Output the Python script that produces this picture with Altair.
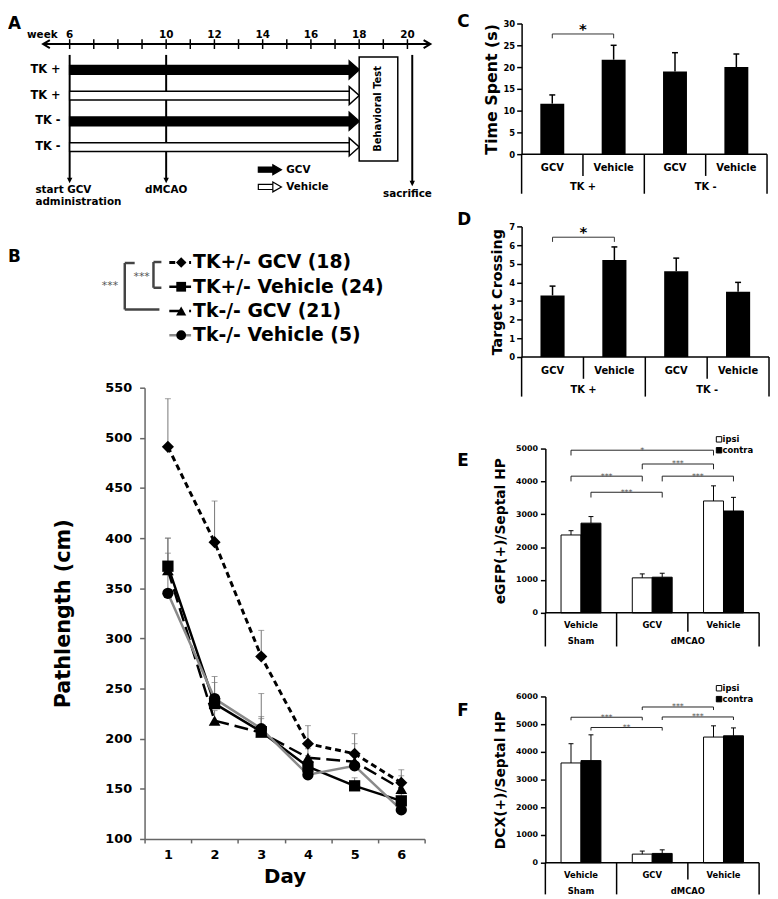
import altair as alt
import pandas as pd

FONT = "DejaVu Sans"
ONE = pd.DataFrame({"k": [0]})

# ---------------- Panel A: timeline (weeks) ----------------
week_ticks = list(range(6, 21))
week_tick_labels = [6, 10, 12, 14, 16, 18, 20]
row_groups = ["TK +", "TK +", "TK -", "TK -"]
row_treatments = ["GCV", "Vehicle", "GCV", "Vehicle"]
treatment_weeks = [6, 18]
dmcao_week = 10
behavior_test_weeks = [18, 19.6]
sacrifice_week = 20.2

# ---------------- Panel B: pathlength per day ----------------
days = [1, 2, 3, 4, 5, 6]
b_series = ["TK+/- GCV (18)", "TK+/- Vehicle (24)", "Tk-/- GCV (21)", "Tk-/- Vehicle (5)"]
b_tkp_gcv = [491, 396, 282, 195, 185, 156]
b_tkp_gcv_top = [539, 437, 308, 213, 205, 169]
b_tkp_veh = [372, 235, 207, 172, 153, 138]
b_tkp_veh_top = [400, 256, 222, 183, 161, 145]
b_tkm_gcv = [368, 218, 206, 181, 177, 150]
b_tkm_gcv_top = [385, 228, 220, 190, 195, 163]
b_tkm_veh = [345, 240, 210, 164, 173, 129]
b_tkm_veh_top = [400, 262, 245, 176, 185, 137]

# ---------------- Panels C, D ----------------
cd_conditions = ["GCV", "Vehicle", "GCV", "Vehicle"]
cd_genotypes = ["TK +", "TK -"]
c_time_spent = [11.6, 21.7, 19.0, 20.0]
c_time_spent_top = [13.6, 25.0, 23.3, 23.0]
d_crossing = [3.3, 5.2, 4.6, 3.5]
d_crossing_top = [3.8, 5.9, 5.3, 4.0]

# ---------------- Panels E, F ----------------
ef_conditions = ["Vehicle", "GCV", "Vehicle"]
ef_models = ["Sham", "dMCAO"]
ef_model_of_group = [0, 1, 1]
ef_sides = ["ipsi", "contra"]
e_ipsi = [2370, 1065, 3405]
e_ipsi_top = [2500, 1185, 3865]
e_contra = [2730, 1085, 3100]
e_contra_top = [2930, 1205, 3515]
f_ipsi = [3600, 310, 4535]
f_ipsi_top = [4295, 420, 4940]
f_contra = [3685, 335, 4580]
f_contra_top = [4615, 465, 4865]
e_sig = [((0, "ipsi"), (2, "ipsi"), 4950, "*"),
         ((1, "ipsi"), (2, "ipsi"), 4530, "***"),
         ((0, "ipsi"), (1, "ipsi"), 4160, "***"),
         ((1, "contra"), (2, "contra"), 4160, "***"),
         ((0, "contra"), (1, "contra"), 3670, "***")]
f_sig = [((1, "ipsi"), (2, "ipsi"), 5620, "***"),
         ((0, "ipsi"), (1, "ipsi"), 5250, "***"),
         ((1, "contra"), (2, "contra"), 5260, "***"),
         ((0, "contra"), (1, "contra"), 4880, "**")]

SIDE_FILL = {"ipsi": "white", "contra": "black"}
TREAT_FILL = {"GCV": "black", "Vehicle": "white"}


# ================= helpers =================
def vtext(text, x, y, size, align="left", weight="bold", color="black", angle=0, baseline="middle"):
    return alt.Chart(ONE).mark_text(text=text, font=FONT, fontSize=size, fontWeight=weight,
                                    align=align, baseline=baseline, color=color, angle=angle
                                    ).encode(x=alt.value(x), y=alt.value(y))


def vline(x1, y1, x2, y2, color="black", width=1.0, dash=None):
    kw = dict(color=color, strokeWidth=width)
    if dash:
        kw["strokeDash"] = dash
    return alt.Chart(ONE).mark_rule(**kw).encode(x=alt.value(x1), y=alt.value(y1),
                                                 x2=alt.value(x2), y2=alt.value(y2))


# ================= Panel A =================
A_PXW = 24.38            # px per week
WA, HA = 290, 184.6
A_XDOM = [21.0 - WA / A_PXW, 21.0]
A_YDOM = [-0.8, 6.3]
XA = alt.Scale(domain=A_XDOM, nice=False, zero=False)
YA = alt.Scale(domain=A_YDOM, nice=False, zero=False, reverse=True)


def xa(f):
    return alt.X(f"{f}:Q", scale=XA, axis=None)


def ya(f):
    return alt.Y(f"{f}:Q", scale=YA, axis=None)


def a_text(text, w, r, size, align="left", angle=0):
    d = pd.DataFrame({"w": [w], "r": [r]})
    return alt.Chart(d).mark_text(text=text, font=FONT, fontSize=size, fontWeight="bold",
                                  align=align, baseline="middle", angle=angle, color="black"
                                  ).encode(x=xa("w"), y=ya("r"))


A = []
axis_df = pd.DataFrame({"a": [4.9], "b": [20.95], "r": [0.0]})
A.append(alt.Chart(axis_df).mark_rule(color="black", strokeWidth=2).encode(x=xa("a"), x2="b:Q", y=ya("r")))
A.append(alt.Chart(axis_df).mark_point(shape="M1.7,-1L0,0L1.7,1", size=64, filled=False, color="black",
                                       strokeWidth=2, opacity=1).encode(x=xa("a"), y=ya("r")))
A.append(alt.Chart(axis_df).mark_point(shape="M-1.7,-1L0,0L-1.7,1", size=64, filled=False, color="black",
                                       strokeWidth=2, opacity=1).encode(x=xa("b"), y=ya("r")))
tick_df = pd.DataFrame({"w": week_ticks})
tick_df["r0"] = -0.19
tick_df["r1"] = 0.19
A.append(alt.Chart(tick_df).mark_rule(color="black", strokeWidth=1.5).encode(x=xa("w"), y=ya("r0"), y2="r1:Q"))
lab_df = pd.DataFrame({"w": week_tick_labels})
lab_df["r"] = -0.36
A.append(alt.Chart(lab_df).mark_text(font=FONT, fontSize=10.5, fontWeight="bold", color="black").encode(
    x=xa("w"), y=ya("r"), text=alt.Text("w:Q", format="d")))
A.append(a_text("week", 5.5, -0.36, 10.5, align="right"))

vl_df = pd.DataFrame({"w": [treatment_weeks[0], dmcao_week, sacrifice_week],
                      "r0": [0.42, 0.42, 0.42], "r1": [5.3, 5.3, 5.42]})
A.append(alt.Chart(vl_df).mark_rule(color="black", strokeWidth=2).encode(x=xa("w"), y=ya("r0"), y2="r1:Q"))
A.append(alt.Chart(vl_df).mark_point(shape="M-1,-1L0,1L1,-1Z", size=30, filled=True, color="black",
                                     opacity=1).encode(x=xa("w"), y=ya("r1")))

head_w = 10 / A_PXW
arr = pd.DataFrame({"row": [1, 2, 3, 4], "treat": row_treatments, "grp": row_groups})
arr["fillc"] = arr["treat"].map(TREAT_FILL)
arr["x0"] = treatment_weeks[0]
arr["x1"] = treatment_weeks[1] - head_w + 0.05
arr["hc"] = treatment_weeks[1] - head_w / 2
arr["r0"] = arr["row"] - 0.17
arr["r1"] = arr["row"] + 0.17
arr["lx"] = 5.62
A.append(alt.Chart(arr).mark_rect(stroke="black", strokeWidth=1.5).encode(
    x=xa("x0"), x2="x1:Q", y=ya("r0"), y2="r1:Q", fill=alt.Fill("fillc:N", scale=None)))
A.append(alt.Chart(arr).mark_point(shape="M-0.56,-1L0.56,0L-0.56,1Z", size=324, filled=True, stroke="black",
                                   strokeWidth=1.5, opacity=1).encode(
    x=xa("hc"), y=ya("row"), fill=alt.Fill("fillc:N", scale=None)))
A.append(alt.Chart(arr).mark_text(font=FONT, fontSize=11.5, fontWeight="bold", align="right", color="black").encode(
    x=xa("lx"), y=ya("row"), text="grp:N"))

box_df = pd.DataFrame({"a": [behavior_test_weeks[0]], "b": [behavior_test_weeks[1]], "r0": [0.5], "r1": [4.54]})
A.append(alt.Chart(box_df).mark_rect(fill="white", stroke="black", strokeWidth=1.5).encode(
    x=xa("a"), x2="b:Q", y=ya("r0"), y2="r1:Q"))
A.append(a_text("Behavioral Test", sum(behavior_test_weeks) / 2, 2.52, 10, align="center", angle=270))

leg = pd.DataFrame({"treat": ["GCV", "Vehicle"], "row": [4.88, 5.55]})
leg["fillc"] = leg["treat"].map(TREAT_FILL)
leg["x0"] = 13.82
leg["x1"] = 14.45
leg["hc"] = 14.6
leg["r0"] = leg["row"] - 0.1
leg["r1"] = leg["row"] + 0.1
leg["tx"] = 14.98
A.append(alt.Chart(leg).mark_rect(stroke="black", strokeWidth=1.2).encode(
    x=xa("x0"), x2="x1:Q", y=ya("r0"), y2="r1:Q", fill=alt.Fill("fillc:N", scale=None)))
A.append(alt.Chart(leg).mark_point(shape="M-0.87,-1L0.87,0L-0.87,1Z", size=100, filled=True, stroke="black",
                                   strokeWidth=1.2, opacity=1).encode(
    x=xa("hc"), y=ya("row"), fill=alt.Fill("fillc:N", scale=None)))
A.append(alt.Chart(leg).mark_text(font=FONT, fontSize=10.5, fontWeight="bold", align="left", color="black").encode(
    x=xa("tx"), y=ya("row"), text="treat:N"))

A.append(a_text("start GCV", 4.58, 5.66, 10.5))
A.append(a_text("administration", 4.58, 6.14, 10.5))
A.append(a_text("dMCAO", dmcao_week, 5.66, 10.5, align="center"))
A.append(a_text("sacrifice", 20.0, 5.82, 10.5, align="center"))
A.append(vtext("A", -138, 0.3, 17))
panel_a = alt.layer(*A).properties(width=WA, height=HA)

# ================= Panel B =================
WB, HB = 283, 456
b_means = [b_tkp_gcv, b_tkp_veh, b_tkm_gcv, b_tkm_veh]
b_tops = [b_tkp_gcv_top, b_tkp_veh_top, b_tkm_gcv_top, b_tkm_veh_top]
rows = []
for name, ms, ts in zip(b_series, b_means, b_tops):
    for d, m, t in zip(days, ms, ts):
        rows.append({"series": name, "day": d, "mean": m, "top": t})
dfb = pd.DataFrame(rows)
b_styles = [
    dict(shape="diamond", dash=[6, 4], color="black", width=3, size=150),
    dict(shape="square", dash=None, color="black", width=2.5, size=130),
    dict(shape="triangle-up", dash=[14, 6], color="black", width=2.5, size=140),
    dict(shape="circle", dash=None, color="#8a8a8a", width=2.5, size=130),
]
XB = alt.Scale(type="band", domain=days, paddingInner=0, paddingOuter=0)
YB = alt.Scale(domain=[100, 550], nice=False, zero=False)
xb_axis = alt.Axis(title="Day", titleFontSize=20, labelFontSize=13, labelAngle=0, tickBand="extent",
                   tickSize=4, labelPadding=6, titlePadding=5, domainColor="#666", tickColor="#666",
                   domainWidth=1.5, tickWidth=1.5)
yb_axis = alt.Axis(values=list(range(100, 551, 50)), title="Pathlength (cm)", titleFontSize=21,
                   labelFontSize=13, tickSize=5, labelPadding=8, titlePadding=32, domainColor="#666",
                   tickColor="#666", domainWidth=1.5, tickWidth=1.5)


def XBd():
    return alt.X("day:O", scale=XB, axis=xb_axis)


def YBd(f):
    return alt.Y(f"{f}:Q", scale=YB, axis=yb_axis)


B = []
B.append(alt.Chart(dfb).mark_rule(color="#777", strokeWidth=1).encode(x=XBd(), y=YBd("mean"), y2="top:Q"))
B.append(alt.Chart(dfb).mark_tick(orient="horizontal", size=6, thickness=1, color="#777").encode(
    x=XBd(), y=YBd("top")))
for name, st in zip(b_series, b_styles):
    sub = dfb[dfb["series"] == name]
    kw = dict(color=st["color"], strokeWidth=st["width"])
    if st["dash"]:
        kw["strokeDash"] = st["dash"]
    B.append(alt.Chart(sub).mark_line(**kw).encode(x=XBd(), y=YBd("mean")))
for name, st in zip(b_series, b_styles):
    sub = dfb[dfb["series"] == name]
    B.append(alt.Chart(sub).mark_point(shape=st["shape"], size=st["size"], filled=True, color="black",
                                       opacity=1).encode(x=XBd(), y=YBd("mean")))
for i, (name, st) in enumerate(zip(b_series, b_styles)):
    yy = -126.5 + 24.5 * i
    B.append(vline(25, yy, 47, yy, color=st["color"], width=st["width"], dash=st["dash"]))
    B.append(alt.Chart(ONE).mark_point(shape=st["shape"], size=st["size"] * 0.75, filled=True, color="black",
                                       opacity=1).encode(x=alt.value(37), y=alt.value(yy)))
    B.append(vtext(name, 49, yy, 19))
BR = "#444"
B.append(vline(9, -127, 9, -101, BR, 2.5))
B.append(vline(9, -127, 17, -127, BR, 2.5))
B.append(vline(9, -101, 17, -101, BR, 2.5))
B.append(vline(-20, -126, -20, -79, BR, 2.5))
B.append(vline(-20, -126, -10, -126, BR, 2.5))
B.append(vline(-20, -79, 15, -79, BR, 2.5))
B.append(vtext("***", -3, -112, 11, align="center", weight="normal", color="#555"))
B.append(vtext("***", -35, -103, 11, align="center", weight="normal", color="#555"))
B.append(vtext("B", -138, -132, 17))
panel_b = alt.layer(*B).properties(width=WB, height=HB)


# ================= Panels C, D =================
def bar4_panel(letter, letter_y, means, tops, ymax, ystep, title, title_size, sig, W, H):
    n = len(means)
    df = pd.DataFrame({"label": cd_conditions, "mean": means, "top": tops})
    df["pos"] = [i + 0.5 for i in range(n)]
    df["lo"] = df["pos"] - 0.195
    df["hi"] = df["pos"] + 0.195
    df["zero"] = 0.0
    cap = 3.0 / (W / n)
    df["c0"] = df["pos"] - cap
    df["c1"] = df["pos"] + cap
    XS = alt.Scale(domain=[0, n], nice=False, zero=False)
    YS = alt.Scale(domain=[0, ymax], nice=False)
    yaxis = alt.Axis(values=list(range(0, ymax + 1, ystep)), title=title, titleFontSize=title_size,
                     labelFontSize=8.5, tickSize=5, labelPadding=2, titlePadding=4, domainWidth=1.5,
                     tickWidth=1.5, domainColor="black", tickColor="black", format="d")

    def X(f):
        return alt.X(f"{f}:Q", scale=XS, axis=None)

    def Y(f):
        return alt.Y(f"{f}:Q", scale=YS, axis=yaxis)

    L = []
    L.append(alt.Chart(df).mark_rect(color="black").encode(x=X("lo"), x2="hi:Q", y=Y("mean"), y2="zero:Q"))
    L.append(alt.Chart(df).mark_rule(color="black", strokeWidth=1.5).encode(x=X("pos"), y=Y("mean"), y2="top:Q"))
    L.append(alt.Chart(df).mark_rule(color="black", strokeWidth=1.5).encode(x=X("c0"), x2="c1:Q", y=Y("top")))
    base = pd.DataFrame({"a": [0], "b": [n], "y": [0]})
    L.append(alt.Chart(base).mark_rule(color="black", strokeWidth=1.5).encode(x=X("a"), x2="b:Q", y=Y("y")))
    i0, i1, yb, drop, lab = sig
    sd = pd.DataFrame({"x0": [i0 + 0.5], "x1": [i1 + 0.5], "yt": [yb], "yb": [yb - drop],
                       "xm": [(i0 + i1) / 2 + 0.5], "lab": [lab]})
    L.append(alt.Chart(sd).mark_rule(color="#333", strokeWidth=1).encode(x=X("x0"), x2="x1:Q", y=Y("yt")))
    L.append(alt.Chart(sd).mark_rule(color="#333", strokeWidth=1).encode(x=X("x0"), y=Y("yt"), y2="yb:Q"))
    L.append(alt.Chart(sd).mark_rule(color="#333", strokeWidth=1).encode(x=X("x1"), y=Y("yt"), y2="yb:Q"))
    L.append(alt.Chart(sd).mark_text(font=FONT, fontSize=15, fontWeight="bold", baseline="alphabetic",
                                     color="black").encode(x=X("xm"), y=Y("yt"), text="lab:N"))
    per = n // len(cd_genotypes)
    long_df = pd.DataFrame({"p": [g * per for g in range(len(cd_genotypes) + 1)]})
    short_df = pd.DataFrame({"p": [g * per + k for g in range(len(cd_genotypes)) for k in range(1, per)]})
    L.append(alt.Chart(long_df).mark_rule(color="black", strokeWidth=1.5).encode(
        x=X("p"), y=alt.value(H), y2=alt.value(H + 40)))
    L.append(alt.Chart(short_df).mark_rule(color="black", strokeWidth=1.5).encode(
        x=X("p"), y=alt.value(H), y2=alt.value(H + 22)))
    L.append(alt.Chart(df).mark_text(font=FONT, fontSize=10, fontWeight="bold", color="black").encode(
        x=X("pos"), y=alt.value(H + 14), text="label:N"))
    gdf = pd.DataFrame({"g": cd_genotypes, "p": [g * per + per / 2 for g in range(len(cd_genotypes))]})
    L.append(alt.Chart(gdf).mark_text(font=FONT, fontSize=10, fontWeight="bold", color="black").encode(
        x=X("p"), y=alt.value(H + 33), text="g:N"))
    L.append(vtext(letter, -65, letter_y, 17))
    return alt.layer(*L).properties(width=W, height=H)


panel_c = bar4_panel("C", -1.5, c_time_spent, c_time_spent_top, 30, 5, "Time Spent (s)", 16,
                     (0, 1, 27.6, 1.0, "*"), 248, 132)
panel_d = bar4_panel("D", -6, d_crossing, d_crossing_top, 7, 1, "Target Crossing", 14.5,
                     (0, 1, 6.42, 0.25, "*"), 250, 132)


# ================= Panels E, F =================
EF_INSET = 24            # y axis sits this many px inside the column's plot edge
EF_GROUP_PX = 72


def pair_panel(letter, letter_y, ipsi, ipsi_t, contra, contra_t, ymax, title, sig, drop, H,
               lab_dy, sup_dy, short_len, long_len, leg_y0):
    ng = len(ef_conditions)
    W = EF_INSET + ng * EF_GROUP_PX
    rows = []
    for g in range(ng):
        rows.append(dict(g=g, side="ipsi", lo=g + 0.22, hi=g + 0.5, c=g + 0.36,
                         mean=ipsi[g], top=ipsi_t[g]))
        rows.append(dict(g=g, side="contra", lo=g + 0.5, hi=g + 0.78, c=g + 0.64,
                         mean=contra[g], top=contra_t[g]))
    df = pd.DataFrame(rows)
    df["fillc"] = df["side"].map(SIDE_FILL)
    df["zero"] = 0.0
    cap = 2.5 / EF_GROUP_PX
    df["c0"] = df["c"] - cap
    df["c1"] = df["c"] + cap
    centers = {(r["g"], r["side"]): r["c"] for r in rows}
    XS = alt.Scale(domain=[-EF_INSET / EF_GROUP_PX, ng], nice=False, zero=False)
    YS = alt.Scale(domain=[0, ymax], nice=False)
    yaxis = alt.Axis(values=list(range(0, ymax + 1, 1000)), title=title, titleFontSize=14,
                     labelFontSize=8, tickSize=5, labelPadding=3, titlePadding=8, domainWidth=1.5,
                     tickWidth=1.5, domainColor="black", tickColor="black", offset=-EF_INSET, format="d")

    def X(f):
        return alt.X(f"{f}:Q", scale=XS, axis=None)

    def Y(f):
        return alt.Y(f"{f}:Q", scale=YS, axis=yaxis)

    L = []
    L.append(alt.Chart(df).mark_rect(stroke="black", strokeWidth=1).encode(
        x=X("lo"), x2="hi:Q", y=Y("mean"), y2="zero:Q", fill=alt.Fill("fillc:N", scale=None)))
    L.append(alt.Chart(df).mark_rule(color="black", strokeWidth=1).encode(x=X("c"), y=Y("mean"), y2="top:Q"))
    L.append(alt.Chart(df).mark_rule(color="black", strokeWidth=1).encode(x=X("c0"), x2="c1:Q", y=Y("top")))
    base = pd.DataFrame({"a": [0], "b": [ng], "y": [0]})
    L.append(alt.Chart(base).mark_rule(color="black", strokeWidth=1.5).encode(x=X("a"), x2="b:Q", y=Y("y")))
    sd = pd.DataFrame([{"x0": centers[a], "x1": centers[b], "yt": y, "yb": y - drop,
                        "xm": (centers[a] + centers[b]) / 2, "lab": lab} for a, b, y, lab in sig])
    L.append(alt.Chart(sd).mark_rule(color="#222", strokeWidth=1).encode(x=X("x0"), x2="x1:Q", y=Y("yt")))
    L.append(alt.Chart(sd).mark_rule(color="#222", strokeWidth=1).encode(x=X("x0"), y=Y("yt"), y2="yb:Q"))
    L.append(alt.Chart(sd).mark_rule(color="#222", strokeWidth=1).encode(x=X("x1"), y=Y("yt"), y2="yb:Q"))
    L.append(alt.Chart(sd).mark_text(font=FONT, fontSize=8, baseline="alphabetic", dy=2.5,
                                     color="#555").encode(x=X("xm"), y=Y("yt"), text="lab:N"))
    bounds = [0]
    for m in range(len(ef_models)):
        bounds.append(bounds[-1] + ef_model_of_group.count(m))
    inner = [g for g in range(1, ng) if g not in bounds]
    L.append(alt.Chart(pd.DataFrame({"p": bounds})).mark_rule(color="black", strokeWidth=1.5).encode(
        x=X("p"), y=alt.value(H), y2=alt.value(H + long_len)))
    L.append(alt.Chart(pd.DataFrame({"p": inner})).mark_rule(color="black", strokeWidth=1.5).encode(
        x=X("p"), y=alt.value(H), y2=alt.value(H + short_len)))
    ldf = pd.DataFrame({"lab": ef_conditions, "p": [g + 0.5 for g in range(ng)]})
    L.append(alt.Chart(ldf).mark_text(font=FONT, fontSize=8.5, fontWeight="bold", color="black").encode(
        x=X("p"), y=alt.value(H + lab_dy), text="lab:N"))
    mdf = pd.DataFrame({"lab": ef_models, "p": [(bounds[m] + bounds[m + 1]) / 2 for m in range(len(ef_models))]})
    L.append(alt.Chart(mdf).mark_text(font=FONT, fontSize=8.5, fontWeight="bold", color="black").encode(
        x=X("p"), y=alt.value(H + sup_dy), text="lab:N"))
    for k, side in enumerate(ef_sides):
        yy = leg_y0 + 11 * k
        L.append(alt.Chart(ONE).mark_square(size=30, fill=SIDE_FILL[side], stroke="black", strokeWidth=1,
                                            opacity=1).encode(x=alt.value(EF_INSET + 175.5), y=alt.value(yy)))
        L.append(vtext(side, EF_INSET + 179, yy, 8.5))
    L.append(vtext(letter, -65, letter_y, 17))
    return alt.layer(*L).properties(width=W, height=H)


panel_e = pair_panel("E", 13, e_ipsi, e_ipsi_top, e_contra, e_contra_top, 5000, "eGFP(+)/Septal HP",
                     e_sig, 160, 166, 12, 28, 19, 34, -9.3)
panel_f = pair_panel("F", 14.7, f_ipsi, f_ipsi_top, f_contra, f_contra_top, 6000, "DCX(+)/Septal HP",
                     f_sig, 110, 168, 12, 29, 17, 32, -8.3)

left = alt.vconcat(panel_a, panel_b, spacing=41)
right = alt.vconcat(alt.vconcat(panel_c, panel_d, spacing=17),
                    alt.vconcat(panel_e, panel_f, spacing=35.5), spacing=36.5)
chart = alt.hconcat(left, right, spacing=23).properties(padding=0, background="white").configure_view(
    stroke=None).configure_axis(labelFont=FONT, titleFont=FONT, labelFontWeight="bold",
                                titleFontWeight="bold", labelColor="black", titleColor="black", grid=False)
chart.save("out.html", embed_options={"renderer": "svg", "actions": False})
